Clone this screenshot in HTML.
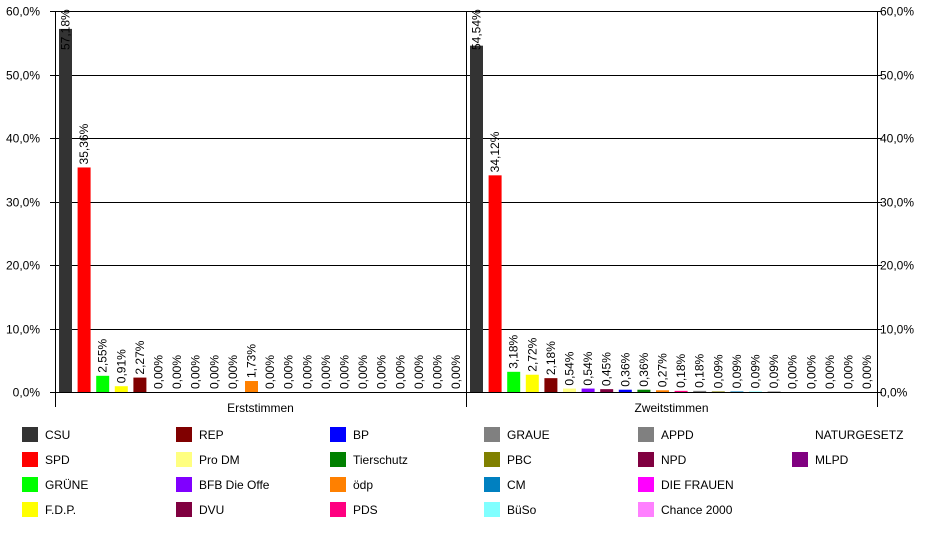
<!DOCTYPE html>
<html><head><meta charset="utf-8"><style>
body{margin:0;background:#fff;font-family:"Liberation Sans",Arial,sans-serif;}
svg text{font-family:"Liberation Sans",Arial,sans-serif;font-size:12px;fill:#000;}
</style></head><body>
<svg id="chart" width="938" height="530" xmlns="http://www.w3.org/2000/svg"></svg>
<script>
const categories = ["Erststimmen","Zweitstimmen"];
const parties = ["CSU","SPD","GRÜNE","F.D.P.","REP","Pro DM","BFB Die Offe","DVU","BP","Tierschutz","ödp","PDS","GRAUE","PBC","CM","BüSo","APPD","NPD","DIE FRAUEN","Chance 2000","NATURGESETZ","MLPD"];
const colors = ["#333333","#ff0000","#00ff00","#ffff00","#800000","#ffff80","#8000ff","#800040","#0000ff","#008000","#ff8000","#ff0080","#808080","#808000","#0080c0","#80ffff","#808080","#800040","#ff00ff","#ff80ff","#ffffff","#800080"];
const erst = [57.18,35.36,2.55,0.91,2.27,0,0,0,0,0,1.73,0,0,0,0,0,0,0,0,0,0,0];
const zweit = [54.54,34.12,3.18,2.72,2.18,0.54,0.54,0.45,0.36,0.36,0.27,0.18,0.18,0.09,0.09,0.09,0.09,0,0,0,0,0];
const ticks = [0,10,20,30,40,50,60];
const tickLabels = ["0,0%","10,0%","20,0%","30,0%","40,0%","50,0%","60,0%"];
const series = [erst, zweit];

const svg = document.getElementById('chart');
const NS = "http://www.w3.org/2000/svg";
const X0 = 55, X1 = 877, Y0 = 392, Y60 = 11;
const yS = v => Y0 - (v/60)*(Y0-Y60);
const groupW = (X1-X0)/categories.length;
const pitch = 18.6, barW = 13;
const xS = (g,i) => X0 + g*groupW + 4 + i*pitch;
function el(tag, attrs, parent){const e=document.createElementNS(NS,tag);for(const k in attrs)e.setAttribute(k,attrs[k]);(parent||svg).appendChild(e);return e;}

ticks.forEach((t,i)=>{
  const y = Math.round(yS(t))+0.5;
  const g = el('line',{x1:X0-5,x2:X1+5,y1:y,y2:y,stroke:'#000','stroke-width':1});
  
  
  const l = el('text',{x:40,y:y+4,'text-anchor':'end'}); l.textContent=tickLabels[i];
  
  
  const r = el('text',{x:880,y:y+4}); r.textContent=tickLabels[i];
  
  
});
[X0, X0+groupW, X1].forEach((x,i)=>{
  const a = el('line',{x1:Math.round(x)+0.5,x2:Math.round(x)+0.5,y1:Y60,y2:407,stroke:'#000'});
  
  
});
categories.forEach((c,g)=>{
  const t = el('text',{x:X0+g*groupW+groupW/2,y:412,'text-anchor':'middle'}); t.textContent=c;
  
  
  series[g].forEach((v,i)=>{
    const x = xS(g,i), y = yS(v);
    const b = el('rect',{x:x,y:y,width:barW,height:Y0-y,fill:colors[i]});
    
    
    let base = y-3; if(base-48<1) base=50;
    const lbl = el('text',{transform:`translate(${x+barW/2+4},${base}) rotate(-90)`});
    lbl.textContent = v.toFixed(2).replace('.',',')+'%';
    
    
  });
});
parties.forEach((p,i)=>{
  const col = Math.floor(i/4), row = i%4;
  const x = 22 + col*154, y = 427 + row*25;
  const s = el('rect',{x:x,y:y,width:16,height:15,fill:colors[i]});
  
  
  const t = el('text',{x:x+23,y:y+12}); t.textContent=p;
  
  
});
</script>
</body></html>
